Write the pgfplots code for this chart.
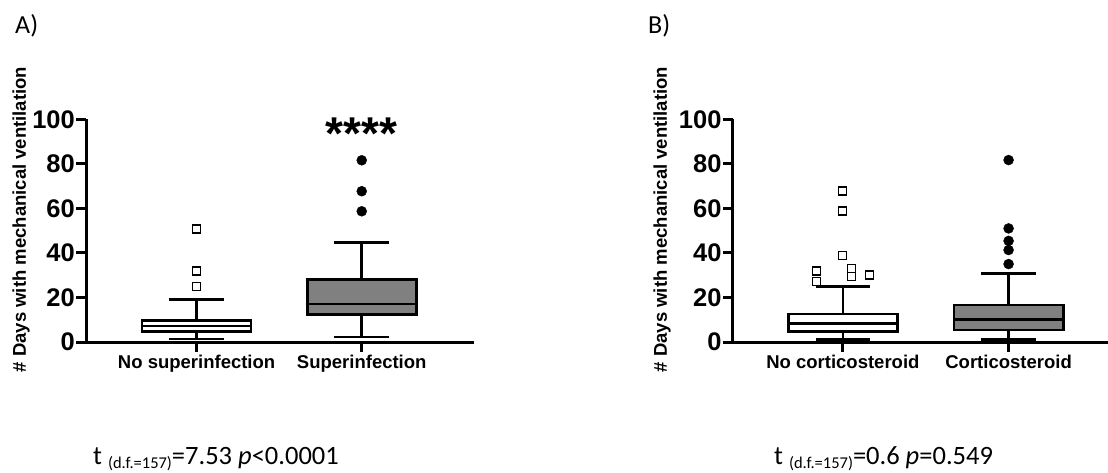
\documentclass[border=0pt]{standalone}
\usepackage{fontspec}
\setmainfont{Liberation Sans}
\newfontfamily\calibri{Carlito}
\usepackage{pgfplots}
\pgfplotsset{compat=1.18}
\usepgfplotslibrary{statistics}

\definecolor{boxgray}{RGB}{128,128,128}

\pgfplotsset{
  ventaxis/.style={
    scale only axis,
    height=222.7pt,
    ymin=0, ymax=100,
    ytick={0,20,...,100},
    xtick={1,2},
    axis x line=bottom, axis y line=left,
    axis line style={line width=3pt,-},
    tick style={line width=3pt,black},
    major tick length=9.5pt,
    tick align=outside,
    clip=false,
    yticklabel style={font=\fontsize{25.5}{30}\selectfont\bfseries, inner sep=1.5pt},
    xticklabel style={font=\fontsize{18.5}{22}\selectfont\bfseries},
    /pgf/number format/assume math mode=true,
    ylabel={\# Days with mechanical ventilation},
    boxplot/draw direction=y,
    boxplot/box extend=0.66,
    boxplot/whisker extend=0.33,
  },
  ylab/.style={ylabel style={font=\fontsize{18.5}{22}\selectfont\bfseries,
    at={([xshift=#1]axis description cs:0,0.55)}, anchor=center}},
  whitebox/.style={draw=black, fill=white, line width=2.6pt},
  graybox/.style={draw=black, fill=boxgray, line width=2.6pt},
  sqout/.style={only marks, mark=square*, mark size=4pt, mark options={fill=white, draw=black, line width=1.2pt}},
  dotout/.style={only marks, mark=*, mark size=5pt, mark options={fill=black, draw=black}},
}

\begin{document}
\begin{tikzpicture}
\useasboundingbox (0,0) rectangle (1108pt,472pt);

% Panel A
\begin{axis}[ventaxis, ylab=-65pt,
  at={(86pt,130pt)}, anchor=south west,
  width=388pt, xmin=0.33, xmax=2.68,
  xticklabels={No superinfection, Superinfection}]
\addplot[whitebox, boxplot prepared={draw position=1,
  lower whisker=1.3, lower quartile=4.6, median=7.2,
  upper quartile=9.6, upper whisker=19}] coordinates {};
\addplot[graybox, boxplot prepared={draw position=2,
  lower whisker=2.2, lower quartile=12.4, median=17.1,
  upper quartile=28.1, upper whisker=44.8}] coordinates {};
\addplot[sqout] coordinates {(1,50.7) (1,31.9) (1,24.8)};
\addplot[dotout] coordinates {(2,81.6) (2,67.7) (2,58.7)};
\node[anchor=base, inner sep=0, font=\fontsize{46}{50}\selectfont\bfseries] at (axis cs:2,86.5) {****};
\end{axis}

% Panel B
\begin{axis}[ventaxis, ylab=-70.7pt,
  at={(732.7pt,130pt)}, anchor=south west,
  width=375.3pt, xmin=0.335, xmax=2.6,
  xticklabels={No corticosteroid, Corticosteroid}]
\addplot[whitebox, boxplot prepared={draw position=1,
  lower whisker=1.0, lower quartile=4.6, median=8.2,
  upper quartile=12.6, upper whisker=24.8}] coordinates {};
\addplot[graybox, boxplot prepared={draw position=2,
  lower whisker=1.0, lower quartile=5.4, median=10.2,
  upper quartile=16.6, upper whisker=30.8}] coordinates {};
\addplot[sqout] coordinates {(1,67.8) (1,58.8) (1,38.8) (0.84,31.9) (0.84,27.1)
  (1.054,33.1) (1.054,29.3) (1.16,30.1)};
\addplot[dotout] coordinates {(2,81.7) (2,51.0) (2,45.4) (2,41.3) (2,35.0)};
\end{axis}

\node[anchor=base west, inner sep=0, font=\calibri\fontsize{26}{30}\selectfont] at (15pt,438.7pt) {A)};
\node[anchor=base west, inner sep=0, font=\calibri\fontsize{26}{30}\selectfont] at (648pt,438.7pt) {B)};

\node[anchor=base west, inner sep=0, font=\calibri\fontsize{26.5}{30}\selectfont] at (93pt,7.7pt)
  {t {\fontsize{16.5}{18}\selectfont\raisebox{-4pt}{(d.f.=157)}}=7.53 \textit{p}<0.0001};
\node[anchor=base west, inner sep=0, font=\calibri\fontsize{26.5}{30}\selectfont] at (774pt,7.7pt)
  {t {\fontsize{16.5}{18}\selectfont\raisebox{-4pt}{(d.f.=157)}}=0.6 \textit{p}=0.549};
\end{tikzpicture}
\end{document}
